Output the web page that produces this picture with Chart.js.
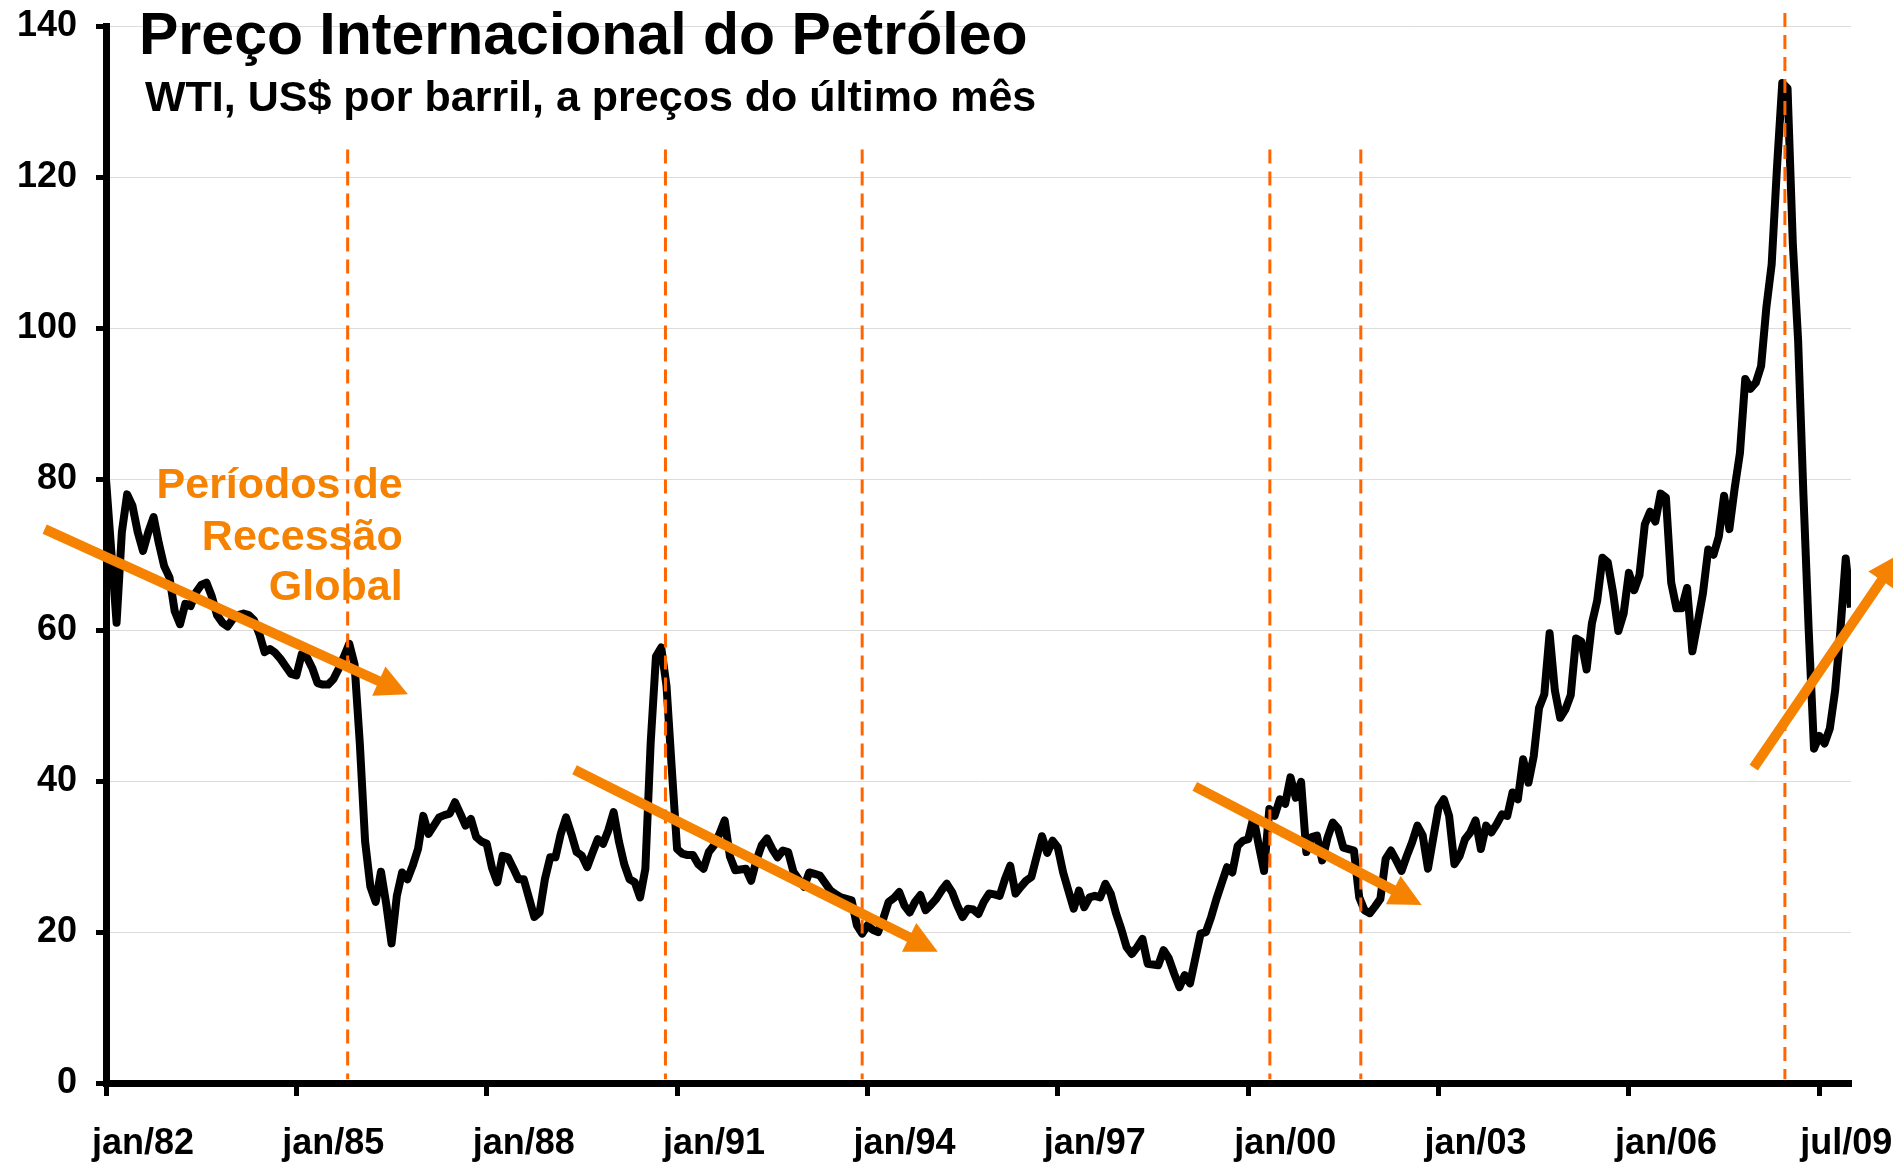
<!DOCTYPE html>
<html lang="pt">
<head>
<meta charset="utf-8">
<title>Preço Internacional do Petróleo</title>
<script src="https://cdn.jsdelivr.net/npm/chart.js@4.4.1/dist/chart.umd.min.js"></script>
<style>
  html, body { margin: 0; padding: 0; background: #fff; }
</style>
</head>
<body>
<canvas id="grafico" width="1893" height="1162"></canvas>
<script>
// WTI mensal, US$ por barril a preços do último mês (jan/82 .. jul/09)
const precos = [
  80, 70.5, 61, 73, 78, 76.5, 73, 70.5, 73, 75, 71.5, 68.5,            // 1982
  67, 62.5, 60.8, 63.5, 63.2, 65, 66, 66.3, 64.5, 62, 61, 60.5,        // 1983
  61.5, 62, 62.2, 62, 61.3, 59.5, 57.1, 57.5, 57, 56.2, 55.2, 54.2,    // 1984
  54, 56.8, 56.4, 55, 53, 52.8, 52.8, 53.5, 54.9, 56.5, 58.2, 55.5,    // 1985
  45, 32, 26, 24, 28, 23.7, 18.5, 24.8, 27.9, 27, 28.8, 31,            // 1986
  35.4, 33, 34.1, 35.2, 35.5, 35.7, 37.2, 35.7, 34.1, 35, 32.6, 32,    // 1987
  31.7, 28.5, 26.6, 30.1, 29.9, 28.5, 27, 27, 24.5, 22, 22.6, 27,      // 1988
  29.9, 29.9, 33, 35.2, 33, 30.6, 30.1, 28.6, 30.5, 32.3, 31.7, 33.5,  // 1989
  35.9, 32, 29, 27, 26.6, 24.6, 28.4, 45, 56.5, 57.7, 52.6, 41.6,      // 1990
  31, 30.4, 30.2, 30.2, 29, 28.4, 30.6, 31.5, 33, 34.8, 30, 28.2,      // 1991
  28.3, 28.4, 26.8, 29.5, 31.5, 32.4, 31, 29.9, 30.8, 30.6, 28, 27,    // 1992
  26, 27.9, 27.7, 27.5, 26.5, 25.5, 25, 24.6, 24.4, 24.2, 20.9, 19.8,  // 1993
  20.9, 20.3, 20, 21.8, 24, 24.5, 25.3, 23.5, 22.6, 24, 24.9, 22.9,    // 1994
  23.6, 24.4, 25.5, 26.4, 25.3, 23.5, 22, 23.1, 23, 22.4, 24, 25.1,    // 1995
  25, 24.8, 27, 28.8, 25.1, 26, 26.8, 27.3, 30, 32.7, 30.5, 32.1,      // 1996
  31.2, 27.9, 25.5, 23.1, 25.5, 23.3, 24.6, 24.8, 24.6, 26.4, 25.1, 22.5, // 1997
  20.4, 18, 17.1, 18, 19.1, 15.8, 15.7, 15.6, 17.6, 16.5, 14.5, 12.7,  // 1998
  14.3, 13.2, 16.5, 19.8, 20, 22, 24.4, 26.5, 28.6, 27.9, 31.4, 32.1,  // 1999
  32.3, 35.2, 31.5, 28.1, 36.3, 35.4, 37.6, 37, 40.5, 37.8, 39.9, 30.6, // 2000
  32.6, 32.8, 29.5, 32.5, 34.5, 33.7, 31.2, 31, 30.8, 24.6, 22.9, 22.5, // 2001
  23.4, 24.4, 29.7, 30.8, 29.5, 28.1, 30.1, 31.9, 34.1, 32.8, 28.4, 32.5, // 2002
  36.5, 37.6, 35.4, 29, 30.1, 32.3, 33.2, 34.8, 31, 34.1, 33.2, 34.3,  // 2003
  35.6, 35.4, 38.5, 37.6, 42.9, 39.8, 43.3, 49.7, 51.5, 59.6, 52, 48.4, // 2004
  49.5, 51.4, 58.9, 58.5, 54.8, 60.9, 63.9, 69.6, 69, 65, 59.9, 62.2,  // 2005
  67.6, 65.3, 67.3, 74, 75.7, 74.4, 78.1, 77.6, 66.3, 62.9, 62.9, 65.6, // 2006
  57.2, 61, 64.9, 70.7, 70, 72.4, 77.8, 73.4, 78.8, 83.5, 93.3, 92,    // 2007
  92.8, 95, 102.8, 108.5, 121.3, 132.5, 131.8, 111.2, 98.4, 78, 60, 44.3, // 2008
  46, 45, 47, 52, 60, 69.5, 63                                          // 2009
];

// eixo X em meses desde jan/82
const posicoesX = [0, 36, 72, 108, 144, 180, 216, 252, 288, 324];
const rotulosX = ['jan/82', 'jan/85', 'jan/88', 'jan/91', 'jan/94', 'jan/97', 'jan/00', 'jan/03', 'jan/06', 'jul/09'];

// linhas verticais tracejadas (recessões), em meses, e até onde sobem (US$)
const recessoes = [45.7, 105.8, 143, 220.1, 237.3, 317.5];
const topoRecessoes = [123.7, 123.7, 123.7, 123.7, 123.7, 141.8];

// setas de tendência: [mês inicial, preço inicial, mês final, preço final]
const setas = [
  [-11.6, 73.4, 57.1, 51.5],
  [88.6, 41.5, 157.3, 17.4],
  [205.9, 39.3, 248.8, 23.6],
  [311.6, 41.8, 339.2, 70.1],
];

const textoRecessao = ['Períodos de', 'Recessão', 'Global'];
const textoRecessaoPos = { x: 56.1, y: [77.5, 70.6, 64.0] };

const laranja = '#f58200';
const laranjaTracejado = '#ff6600';
const fonte = '"Liberation Sans", Arial, Helvetica, sans-serif';

Chart.defaults.font.family = fonte;

function desenhaSeta(ctx, x1, y1, x2, y2) {
  const ang = Math.atan2(y2 - y1, x2 - x1);
  const comp = 32, meia = 16;
  const bx = x2 - comp * Math.cos(ang);
  const by = y2 - comp * Math.sin(ang);
  ctx.beginPath();
  ctx.moveTo(x1, y1);
  ctx.lineTo(bx + Math.cos(ang), by + Math.sin(ang));
  ctx.stroke();
  ctx.beginPath();
  ctx.moveTo(x2, y2);
  ctx.lineTo(bx + meia * Math.sin(ang), by - meia * Math.cos(ang));
  ctx.lineTo(bx - meia * Math.sin(ang), by + meia * Math.cos(ang));
  ctx.closePath();
  ctx.fill();
}

const datasetsRecessao = recessoes.map((m, i) => ({
  data: [{ x: m, y: topoRecessoes[i] }, { x: m, y: 0.5 }],
  borderColor: laranjaTracejado,
  borderWidth: 3,
  borderDash: [14, 8],
  pointRadius: 0,
  fill: false,
  clip: false,
  order: 0,
}));

new Chart(document.getElementById('grafico').getContext('2d'), {
  type: 'line',
  data: {
    datasets: [
      ...datasetsRecessao,
      {
        label: 'WTI',
        data: precos.map((v, i) => ({ x: i, y: v })),
        borderColor: '#000',
        borderWidth: 8,
        borderJoinStyle: 'round',
        pointRadius: 0,
        tension: 0,
        fill: false,
        order: 1,
      },
    ],
  },
  options: {
    responsive: false,
    devicePixelRatio: 1,
    animation: false,
    layout: {
      padding: { top: 26.5, right: 42, bottom: 0, left: 0 },
    },
    scales: {
      x: {
        type: 'linear',
        min: 0,
        max: precos.length - 1,
        afterBuildTicks: (scale) => {
          scale.ticks = posicoesX.map(v => ({ value: v }));
        },
        afterFit: (scale) => {
          scale.height = 79;
          scale.paddingLeft = 0;
          scale.paddingRight = 0;
        },
        ticks: {
          autoSkip: false,
          maxRotation: 0,
          labelOffset: 37,
          padding: 26,
          color: '#000',
          font: { size: 36, weight: 'bold' },
          // o último rótulo fica encostado na borda, como no original
          callback: (v) => {
            const i = posicoesX.indexOf(v);
            return i === rotulosX.length - 1 ? rotulosX[i] + '\u00a0\u00a0' : rotulosX[i];
          },
        },
        grid: {
          drawOnChartArea: false,
          drawTicks: true,
          tickLength: 13,
          tickWidth: 5,
          tickColor: '#000',
        },
        border: { color: '#000', width: 7 },
      },
      y: {
        min: 0,
        max: 140,
        afterFit: (scale) => {
          scale.width = 106;
          scale.paddingTop = 0;
          scale.paddingBottom = 0;
        },
        ticks: {
          stepSize: 20,
          padding: 19,
          color: '#000',
          font: { size: 36, weight: 'bold' },
        },
        grid: {
          color: '#dcdcdc',
          lineWidth: 1,
          drawTicks: true,
          tickLength: 10,
          tickWidth: 5,
          tickColor: '#000',
        },
        border: { color: '#000', width: 7 },
      },
    },
    plugins: {
      legend: { display: false },
      tooltip: { enabled: false },
    },
  },
  plugins: [
    {
      id: 'anotacoes',
      afterDatasetsDraw: (chart) => {
        const ctx = chart.ctx;
        const sx = chart.scales.x;
        const sy = chart.scales.y;

        ctx.save();
        ctx.strokeStyle = laranja;
        ctx.fillStyle = laranja;
        ctx.lineWidth = 10;
        ctx.lineCap = 'butt';
        setas.forEach(s => {
          desenhaSeta(ctx,
            sx.getPixelForValue(s[0]), sy.getPixelForValue(s[1]),
            sx.getPixelForValue(s[2]), sy.getPixelForValue(s[3]));
        });

        ctx.font = `bold 43px ${fonte}`;
        ctx.textAlign = 'right';
        ctx.textBaseline = 'alphabetic';
        textoRecessao.forEach((t, i) => {
          ctx.fillText(t, sx.getPixelForValue(textoRecessaoPos.x), sy.getPixelForValue(textoRecessaoPos.y[i]));
        });
        ctx.restore();
      },
      afterDraw: (chart) => {
        const ctx = chart.ctx;
        const sy = chart.scales.y;
        const left = chart.chartArea.left;
        const topo = sy.getPixelForValue(140);
        ctx.save();
        ctx.fillStyle = '#000';
        ctx.textAlign = 'left';
        ctx.textBaseline = 'alphabetic';
        ctx.font = `bold 59px ${fonte}`;
        ctx.fillText('Preço Internacional do Petróleo', left + 33, topo + 27.5);
        ctx.font = `bold 43px ${fonte}`;
        ctx.fillText('WTI, US$ por barril, a preços do último mês', left + 39, topo + 84.5);
        ctx.restore();
      },
    },
  ],
});
</script>
</body>
</html>
